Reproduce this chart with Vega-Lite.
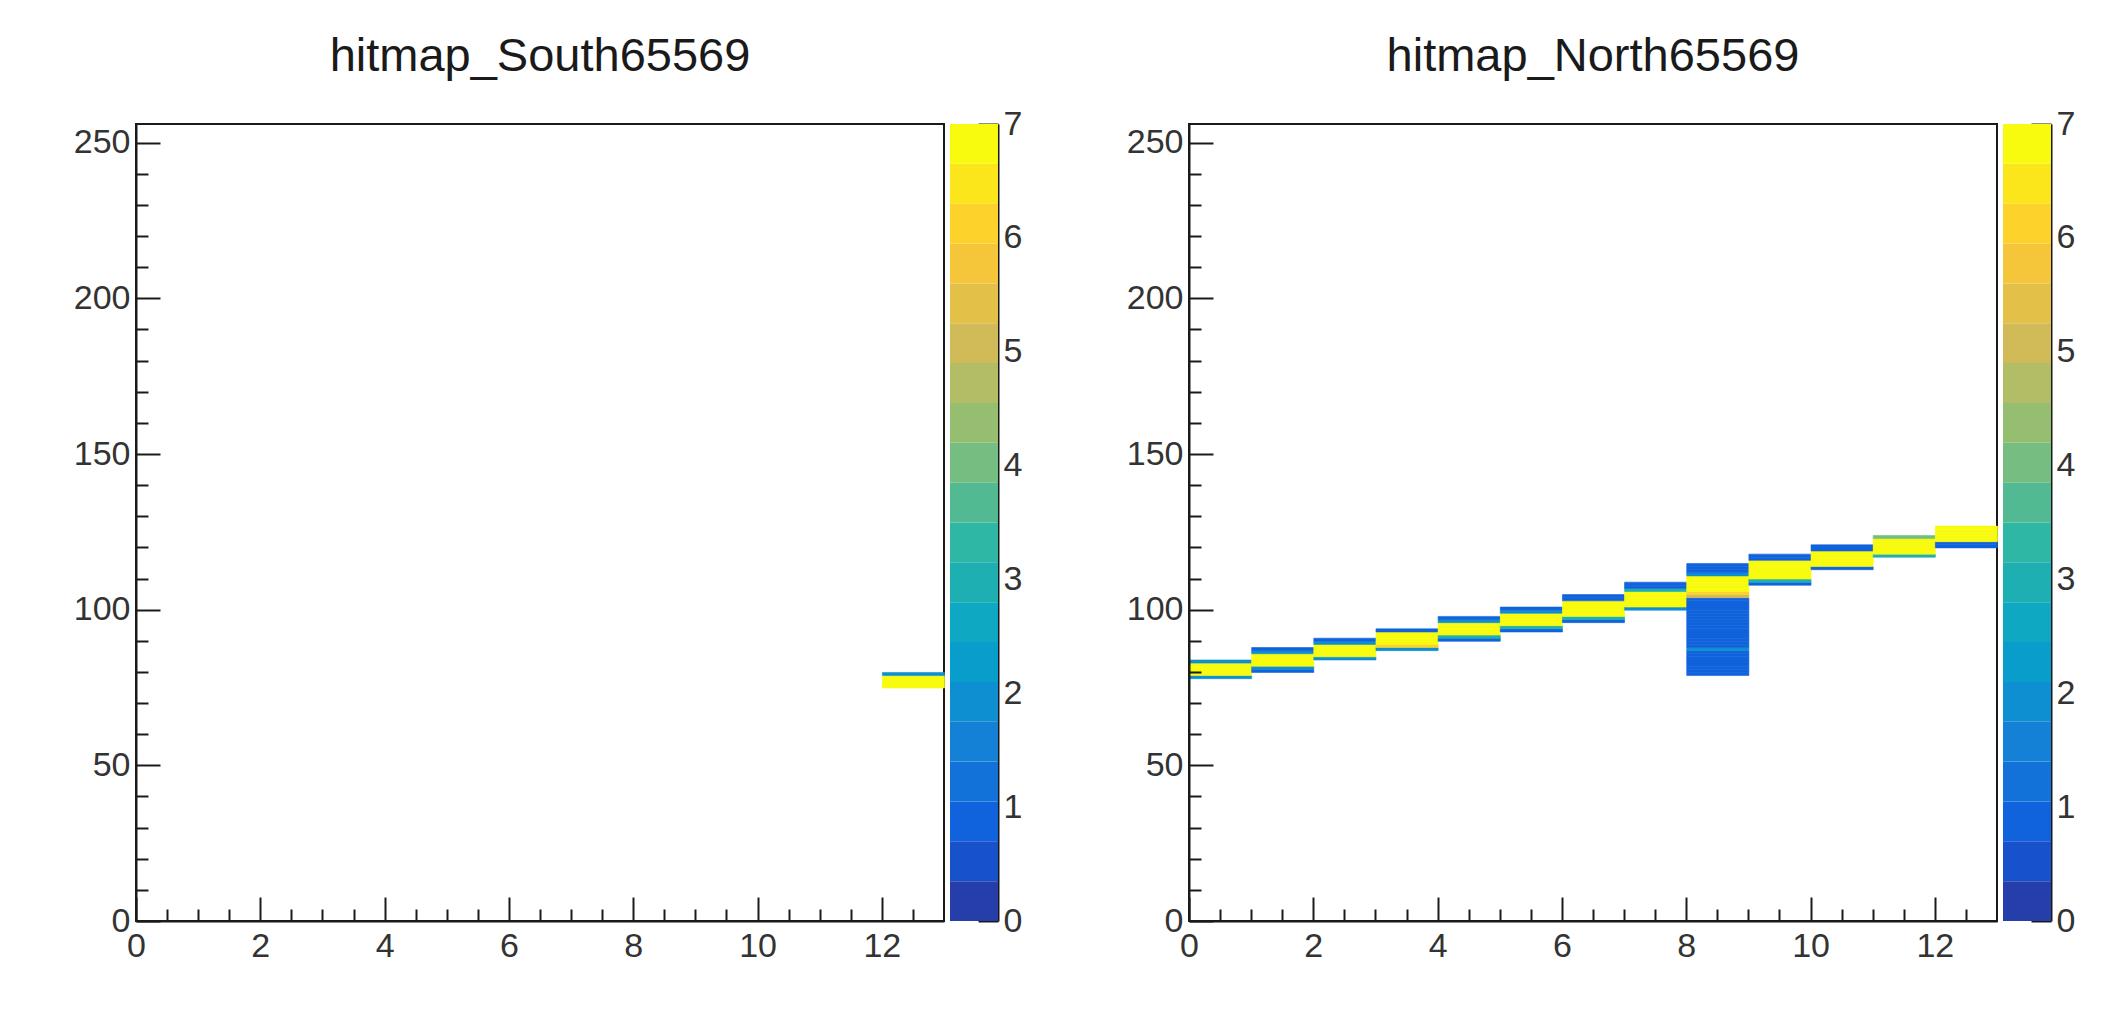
{
  "$schema": "https://vega.github.io/schema/vega-lite/v6.json",
  "padding": {"left": 72, "top": 32, "right": 10, "bottom": 10},
  "background": "white",
  "datasets": {
    "S": [
      {"x":12,"y":75,"n":7},{"x":12,"y":76,"n":7},{"x":12,"y":77,"n":7},{"x":12,"y":78,"n":7},{"x":12,"y":79,"n":2}
    ],
    "N": [
      {"x":0,"y":78,"n":2},{"x":0,"y":79,"n":7},{"x":0,"y":80,"n":7},{"x":0,"y":81,"n":7},{"x":0,"y":82,"n":7},{"x":0,"y":83,"n":2},
      {"x":1,"y":80,"n":1},{"x":1,"y":81,"n":2},{"x":1,"y":82,"n":7},{"x":1,"y":83,"n":7},{"x":1,"y":84,"n":7},{"x":1,"y":85,"n":7},{"x":1,"y":86,"n":2},{"x":1,"y":87,"n":1},
      {"x":2,"y":84,"n":2},{"x":2,"y":85,"n":7},{"x":2,"y":86,"n":7},{"x":2,"y":87,"n":7},{"x":2,"y":88,"n":7},{"x":2,"y":89,"n":2},{"x":2,"y":90,"n":1},
      {"x":3,"y":87,"n":2},{"x":3,"y":88,"n":6},{"x":3,"y":89,"n":7},{"x":3,"y":90,"n":7},{"x":3,"y":91,"n":7},{"x":3,"y":92,"n":7},{"x":3,"y":93,"n":1},
      {"x":4,"y":90,"n":1},{"x":4,"y":91,"n":3},{"x":4,"y":92,"n":7},{"x":4,"y":93,"n":7},{"x":4,"y":94,"n":7},{"x":4,"y":95,"n":7},{"x":4,"y":96,"n":2},{"x":4,"y":97,"n":1},
      {"x":5,"y":93,"n":1},{"x":5,"y":94,"n":3},{"x":5,"y":95,"n":7},{"x":5,"y":96,"n":7},{"x":5,"y":97,"n":7},{"x":5,"y":98,"n":7},{"x":5,"y":99,"n":2},{"x":5,"y":100,"n":1},
      {"x":6,"y":96,"n":1},{"x":6,"y":97,"n":3},{"x":6,"y":98,"n":7},{"x":6,"y":99,"n":7},{"x":6,"y":100,"n":7},{"x":6,"y":101,"n":7},{"x":6,"y":102,"n":7},{"x":6,"y":103,"n":1},{"x":6,"y":104,"n":1},
      {"x":7,"y":100,"n":2},{"x":7,"y":101,"n":7},{"x":7,"y":102,"n":7},{"x":7,"y":103,"n":7},{"x":7,"y":104,"n":7},{"x":7,"y":105,"n":7},{"x":7,"y":106,"n":3},{"x":7,"y":107,"n":1},{"x":7,"y":108,"n":1},
      {"x":8,"y":79,"n":1},{"x":8,"y":80,"n":1},{"x":8,"y":81,"n":1},{"x":8,"y":82,"n":1},{"x":8,"y":83,"n":1},{"x":8,"y":84,"n":1},{"x":8,"y":85,"n":1},{"x":8,"y":86,"n":1},{"x":8,"y":87,"n":2},{"x":8,"y":88,"n":1},{"x":8,"y":89,"n":1},{"x":8,"y":90,"n":1},{"x":8,"y":91,"n":1},{"x":8,"y":92,"n":1},{"x":8,"y":93,"n":1},{"x":8,"y":94,"n":1},{"x":8,"y":95,"n":1},{"x":8,"y":96,"n":1},{"x":8,"y":97,"n":1},{"x":8,"y":98,"n":1},{"x":8,"y":99,"n":1},{"x":8,"y":100,"n":1},{"x":8,"y":101,"n":1},{"x":8,"y":102,"n":1},{"x":8,"y":103,"n":1},{"x":8,"y":104,"n":5},{"x":8,"y":105,"n":6},{"x":8,"y":106,"n":7},{"x":8,"y":107,"n":7},{"x":8,"y":108,"n":7},{"x":8,"y":109,"n":7},{"x":8,"y":110,"n":7},{"x":8,"y":111,"n":2},{"x":8,"y":112,"n":1},{"x":8,"y":113,"n":1},{"x":8,"y":114,"n":1},
      {"x":9,"y":108,"n":1},{"x":9,"y":109,"n":3},{"x":9,"y":110,"n":7},{"x":9,"y":111,"n":7},{"x":9,"y":112,"n":7},{"x":9,"y":113,"n":7},{"x":9,"y":114,"n":7},{"x":9,"y":115,"n":7},{"x":9,"y":116,"n":1},{"x":9,"y":117,"n":1},
      {"x":10,"y":113,"n":1},{"x":10,"y":114,"n":7},{"x":10,"y":115,"n":7},{"x":10,"y":116,"n":7},{"x":10,"y":117,"n":7},{"x":10,"y":118,"n":7},{"x":10,"y":119,"n":1},{"x":10,"y":120,"n":1},
      {"x":11,"y":117,"n":3},{"x":11,"y":118,"n":7},{"x":11,"y":119,"n":7},{"x":11,"y":120,"n":7},{"x":11,"y":121,"n":7},{"x":11,"y":122,"n":7},{"x":11,"y":123,"n":4},
      {"x":12,"y":120,"n":1},{"x":12,"y":121,"n":1},{"x":12,"y":122,"n":7},{"x":12,"y":123,"n":7},{"x":12,"y":124,"n":7},{"x":12,"y":125,"n":7},{"x":12,"y":126,"n":7}
    ],
    "cb": [
      {"z":0,"z2":0.35,"c":0.175},{"z":0.35,"z2":0.7,"c":0.525},{"z":0.7,"z2":1.05,"c":0.875},{"z":1.05,"z2":1.4,"c":1.225},
      {"z":1.4,"z2":1.75,"c":1.575},{"z":1.75,"z2":2.1,"c":1.925},{"z":2.1,"z2":2.45,"c":2.275},{"z":2.45,"z2":2.8,"c":2.625},
      {"z":2.8,"z2":3.15,"c":2.975},{"z":3.15,"z2":3.5,"c":3.325},{"z":3.5,"z2":3.85,"c":3.675},{"z":3.85,"z2":4.2,"c":4.025},
      {"z":4.2,"z2":4.55,"c":4.375},{"z":4.55,"z2":4.9,"c":4.725},{"z":4.9,"z2":5.25,"c":5.075},{"z":5.25,"z2":5.6,"c":5.425},
      {"z":5.6,"z2":5.95,"c":5.775},{"z":5.95,"z2":6.3,"c":6.125},{"z":6.3,"z2":6.65,"c":6.475},{"z":6.65,"z2":7,"c":6.825}
    ]
  },
  "spacing": 103,
  "hconcat": [
    {
      "spacing": 4,
      "hconcat": [
        {
          "width": 808, "height": 797,
          "title": {"text": "hitmap_South65569", "anchor": "middle", "offset": 6, "baseline": "alphabetic"},
          "data": {"name": "S"},
          "mark": {"type": "rect", "binSpacing": 0, "strokeWidth": 0.6},
          "encoding": {
            "x": {"field": "x", "type": "quantitative", "bin": {"binned": true, "step": 1},
              "scale": {"domain": [0, 13], "nice": false, "zero": false},
              "axis": {"values": [0,0.5,1,1.5,2,2.5,3,3.5,4,4.5,5,5.5,6,6.5,7,7.5,8,8.5,9,9.5,10,10.5,11,11.5,12,12.5],
                "labelExpr": "datum.value % 2 === 0 ? format(datum.value, 'd') : ''",
                "tickSize": {"condition": {"test": "datum.value % 2 === 0", "value": -24}, "value": -12},
                "labelPadding": 32}},
            "y": {"field": "y", "type": "quantitative", "bin": {"binned": true, "step": 1},
              "scale": {"domain": [0, 256], "nice": false, "zero": false},
              "axis": {"values": [0,10,20,30,40,50,60,70,80,90,100,110,120,130,140,150,160,170,180,190,200,210,220,230,240,250],
                "labelExpr": "datum.value % 50 === 0 ? format(datum.value, 'd') : ''",
                "tickSize": {"condition": {"test": "datum.value % 50 === 0", "value": -24}, "value": -12},
                "labelPadding": 30}},
            "color": {"field": "n", "type": "quantitative", "legend": null,
              "scale": {"type": "quantize", "domain": [0, 7], "nice": false, "zero": false,
                "range": ["#263ea9","#1752cc","#1063dc","#1272d9","#1481d6","#0e8fd1","#099dcc","#0ea8c2","#1eafb3","#2eb7a4","#52ba92","#75bd80","#96be71","#b3bd65","#d1bb59","#e3c149","#f5c63a","#fdd22b","#fbe61c","#f9fb0e"]}},
            "stroke": {"field": "n", "type": "quantitative", "legend": null,
              "scale": {"type": "quantize", "domain": [0, 7], "nice": false, "zero": false,
                "range": ["#263ea9","#1752cc","#1063dc","#1272d9","#1481d6","#0e8fd1","#099dcc","#0ea8c2","#1eafb3","#2eb7a4","#52ba92","#75bd80","#96be71","#b3bd65","#d1bb59","#e3c149","#f5c63a","#fdd22b","#fbe61c","#f9fb0e"]}}
          }
        },
        {
          "width": 48, "height": 797,
          "view": {"stroke": null},
          "data": {"name": "cb"},
          "mark": {"type": "rect"},
          "encoding": {
            "y": {"field": "z", "type": "quantitative", "scale": {"domain": [0, 7], "nice": false, "zero": false},
              "axis": {"orient": "right", "values": [0,1,2,3,4,5,6,7], "tickSize": -20, "labelPadding": 25}},
            "y2": {"field": "z2"},
            "color": {"field": "c", "type": "quantitative", "legend": null,
              "scale": {"type": "quantize", "domain": [0, 7], "nice": false, "zero": false,
                "range": ["#263ea9","#1752cc","#1063dc","#1272d9","#1481d6","#0e8fd1","#099dcc","#0ea8c2","#1eafb3","#2eb7a4","#52ba92","#75bd80","#96be71","#b3bd65","#d1bb59","#e3c149","#f5c63a","#fdd22b","#fbe61c","#f9fb0e"]}}
          }
        }
      ]
    },
    {
      "spacing": 4,
      "hconcat": [
        {
          "width": 808, "height": 797,
          "title": {"text": "hitmap_North65569", "anchor": "middle", "offset": 6, "baseline": "alphabetic"},
          "data": {"name": "N"},
          "mark": {"type": "rect", "binSpacing": 0, "strokeWidth": 0.6},
          "encoding": {
            "x": {"field": "x", "type": "quantitative", "bin": {"binned": true, "step": 1},
              "scale": {"domain": [0, 13], "nice": false, "zero": false},
              "axis": {"values": [0,0.5,1,1.5,2,2.5,3,3.5,4,4.5,5,5.5,6,6.5,7,7.5,8,8.5,9,9.5,10,10.5,11,11.5,12,12.5],
                "labelExpr": "datum.value % 2 === 0 ? format(datum.value, 'd') : ''",
                "tickSize": {"condition": {"test": "datum.value % 2 === 0", "value": -24}, "value": -12},
                "labelPadding": 32}},
            "y": {"field": "y", "type": "quantitative", "bin": {"binned": true, "step": 1},
              "scale": {"domain": [0, 256], "nice": false, "zero": false},
              "axis": {"values": [0,10,20,30,40,50,60,70,80,90,100,110,120,130,140,150,160,170,180,190,200,210,220,230,240,250],
                "labelExpr": "datum.value % 50 === 0 ? format(datum.value, 'd') : ''",
                "tickSize": {"condition": {"test": "datum.value % 50 === 0", "value": -24}, "value": -12},
                "labelPadding": 30}},
            "color": {"field": "n", "type": "quantitative", "legend": null,
              "scale": {"type": "quantize", "domain": [0, 7], "nice": false, "zero": false,
                "range": ["#263ea9","#1752cc","#1063dc","#1272d9","#1481d6","#0e8fd1","#099dcc","#0ea8c2","#1eafb3","#2eb7a4","#52ba92","#75bd80","#96be71","#b3bd65","#d1bb59","#e3c149","#f5c63a","#fdd22b","#fbe61c","#f9fb0e"]}},
            "stroke": {"field": "n", "type": "quantitative", "legend": null,
              "scale": {"type": "quantize", "domain": [0, 7], "nice": false, "zero": false,
                "range": ["#263ea9","#1752cc","#1063dc","#1272d9","#1481d6","#0e8fd1","#099dcc","#0ea8c2","#1eafb3","#2eb7a4","#52ba92","#75bd80","#96be71","#b3bd65","#d1bb59","#e3c149","#f5c63a","#fdd22b","#fbe61c","#f9fb0e"]}}
          }
        },
        {
          "width": 48, "height": 797,
          "view": {"stroke": null},
          "data": {"name": "cb"},
          "mark": {"type": "rect"},
          "encoding": {
            "y": {"field": "z", "type": "quantitative", "scale": {"domain": [0, 7], "nice": false, "zero": false},
              "axis": {"orient": "right", "values": [0,1,2,3,4,5,6,7], "tickSize": -20, "labelPadding": 25}},
            "y2": {"field": "z2"},
            "color": {"field": "c", "type": "quantitative", "legend": null,
              "scale": {"type": "quantize", "domain": [0, 7], "nice": false, "zero": false,
                "range": ["#263ea9","#1752cc","#1063dc","#1272d9","#1481d6","#0e8fd1","#099dcc","#0ea8c2","#1eafb3","#2eb7a4","#52ba92","#75bd80","#96be71","#b3bd65","#d1bb59","#e3c149","#f5c63a","#fdd22b","#fbe61c","#f9fb0e"]}}
          }
        }
      ]
    }
  ],
  "config": {
    "font": "Liberation Sans",
    "view": {"stroke": "#1a1a1a", "strokeWidth": 2},
    "axis": {"labelFont": "Liberation Sans", "labelFontSize": 34, "labelColor": "#333333",
      "domainColor": "#1a1a1a", "domainWidth": 2, "tickColor": "#1a1a1a", "tickWidth": 2,
      "grid": false, "title": null, "labelFlush": false, "labelOverlap": false, "labelBound": false},
    "title": {"font": "Liberation Sans", "fontSize": 47, "fontWeight": "normal", "color": "#1a1a1a"}
  }
}
